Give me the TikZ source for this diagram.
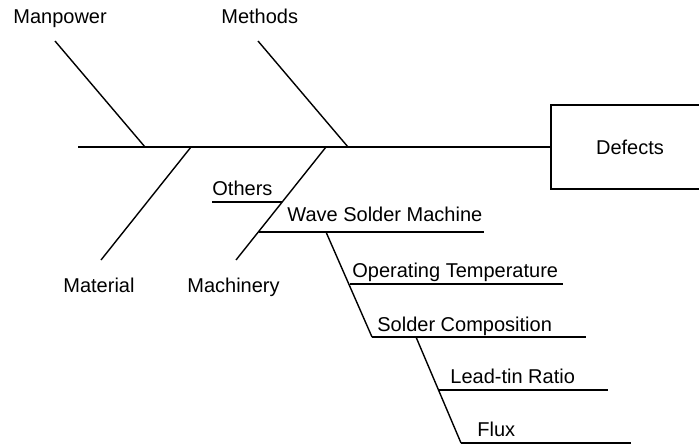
\documentclass[tikz,border=0pt]{standalone}
\usepackage{fontspec}
\setmainfont{Liberation Sans}
\usepackage{tikz}
\usetikzlibrary{positioning, calc}

\begin{document}
\begin{tikzpicture}[x=0.5pt, y=-0.5pt,
    bone/.style={line width=0.7pt},
    lbl/.style={anchor=base west, inner sep=0pt, font=\fontsize{10}{12}\selectfont}]
  \useasboundingbox (0,0) rectangle (699,444);
  \clip (0,0) rectangle (699,444);

  % effect box and spine
  \node[draw, line width=0.7pt, minimum width=79pt, minimum height=42pt, inner sep=0pt,
        font=\fontsize{10}{12}\selectfont] (defects) at (630,147) {Defects};
  \coordinate (tail) at (78,147);
  \draw[bone] (tail) -- (defects.west);

  % main bones
  \node[lbl] (manpower)  at (13,24)  {Manpower};
  \node[lbl] (methods)   at (221,24) {Methods};
  \node[lbl] (material)  at (63,292) {Material};
  \node[lbl] (machinery) at (187,292) {Machinery};
  \coordinate (manpowerA)  at (55,41);   \coordinate (manpowerB)  at (145,147);
  \coordinate (methodsA)   at (258,41);  \coordinate (methodsB)   at (348,147);
  \coordinate (materialA)  at (191,147); \coordinate (materialB)  at (101,260);
  \coordinate (machineryA) at (326,147); \coordinate (machineryB) at (236,260);
  \draw[bone] (manpowerA) -- (manpowerB);
  \draw[bone] (methodsA) -- (methodsB);
  \draw[bone] (materialA) -- (materialB);
  \draw[bone] (machineryA) -- (machineryB);

  % machinery causes
  \node[lbl] (others) at (212,195) {Others};
  \node[lbl] (wave)   at (287,221) {Wave Solder Machine};
  \coordinate (othersA) at (212,202); \coordinate (othersB) at (282,202);
  \coordinate (waveA)   at (259,232); \coordinate (waveB)   at (484,232);
  \draw[bone] (othersA) -- (othersB);
  \draw[bone] (waveA) -- (waveB);

  % wave solder machine causes
  \node[lbl] (temp)   at (352,277) {Operating Temperature};
  \node[lbl] (solder) at (377,331) {Solder Composition};
  \coordinate (waveC)   at (326,232);
  \coordinate (tempA)   at (350,284); \coordinate (tempB)   at (563,284);
  \coordinate (solderA) at (372,337); \coordinate (solderB) at (586,337);
  \draw[bone] (waveC) -- (solderA);
  \draw[bone] (tempA) -- (tempB);
  \draw[bone] (solderA) -- (solderB);

  % solder composition causes
  \node[lbl] (ratio) at (450,383) {Lead-tin Ratio};
  \node[lbl] (flux)  at (477,436) {Flux};
  \coordinate (solderC) at (416,337);
  \coordinate (ratioA)  at (439,390); \coordinate (ratioB) at (608,390);
  \coordinate (fluxA)   at (461,443); \coordinate (fluxB)  at (631,443);
  \draw[bone] (solderC) -- (fluxA);
  \draw[bone] (ratioA) -- (ratioB);
  \draw[bone] (fluxA) -- (fluxB);
\end{tikzpicture}
\end{document}
